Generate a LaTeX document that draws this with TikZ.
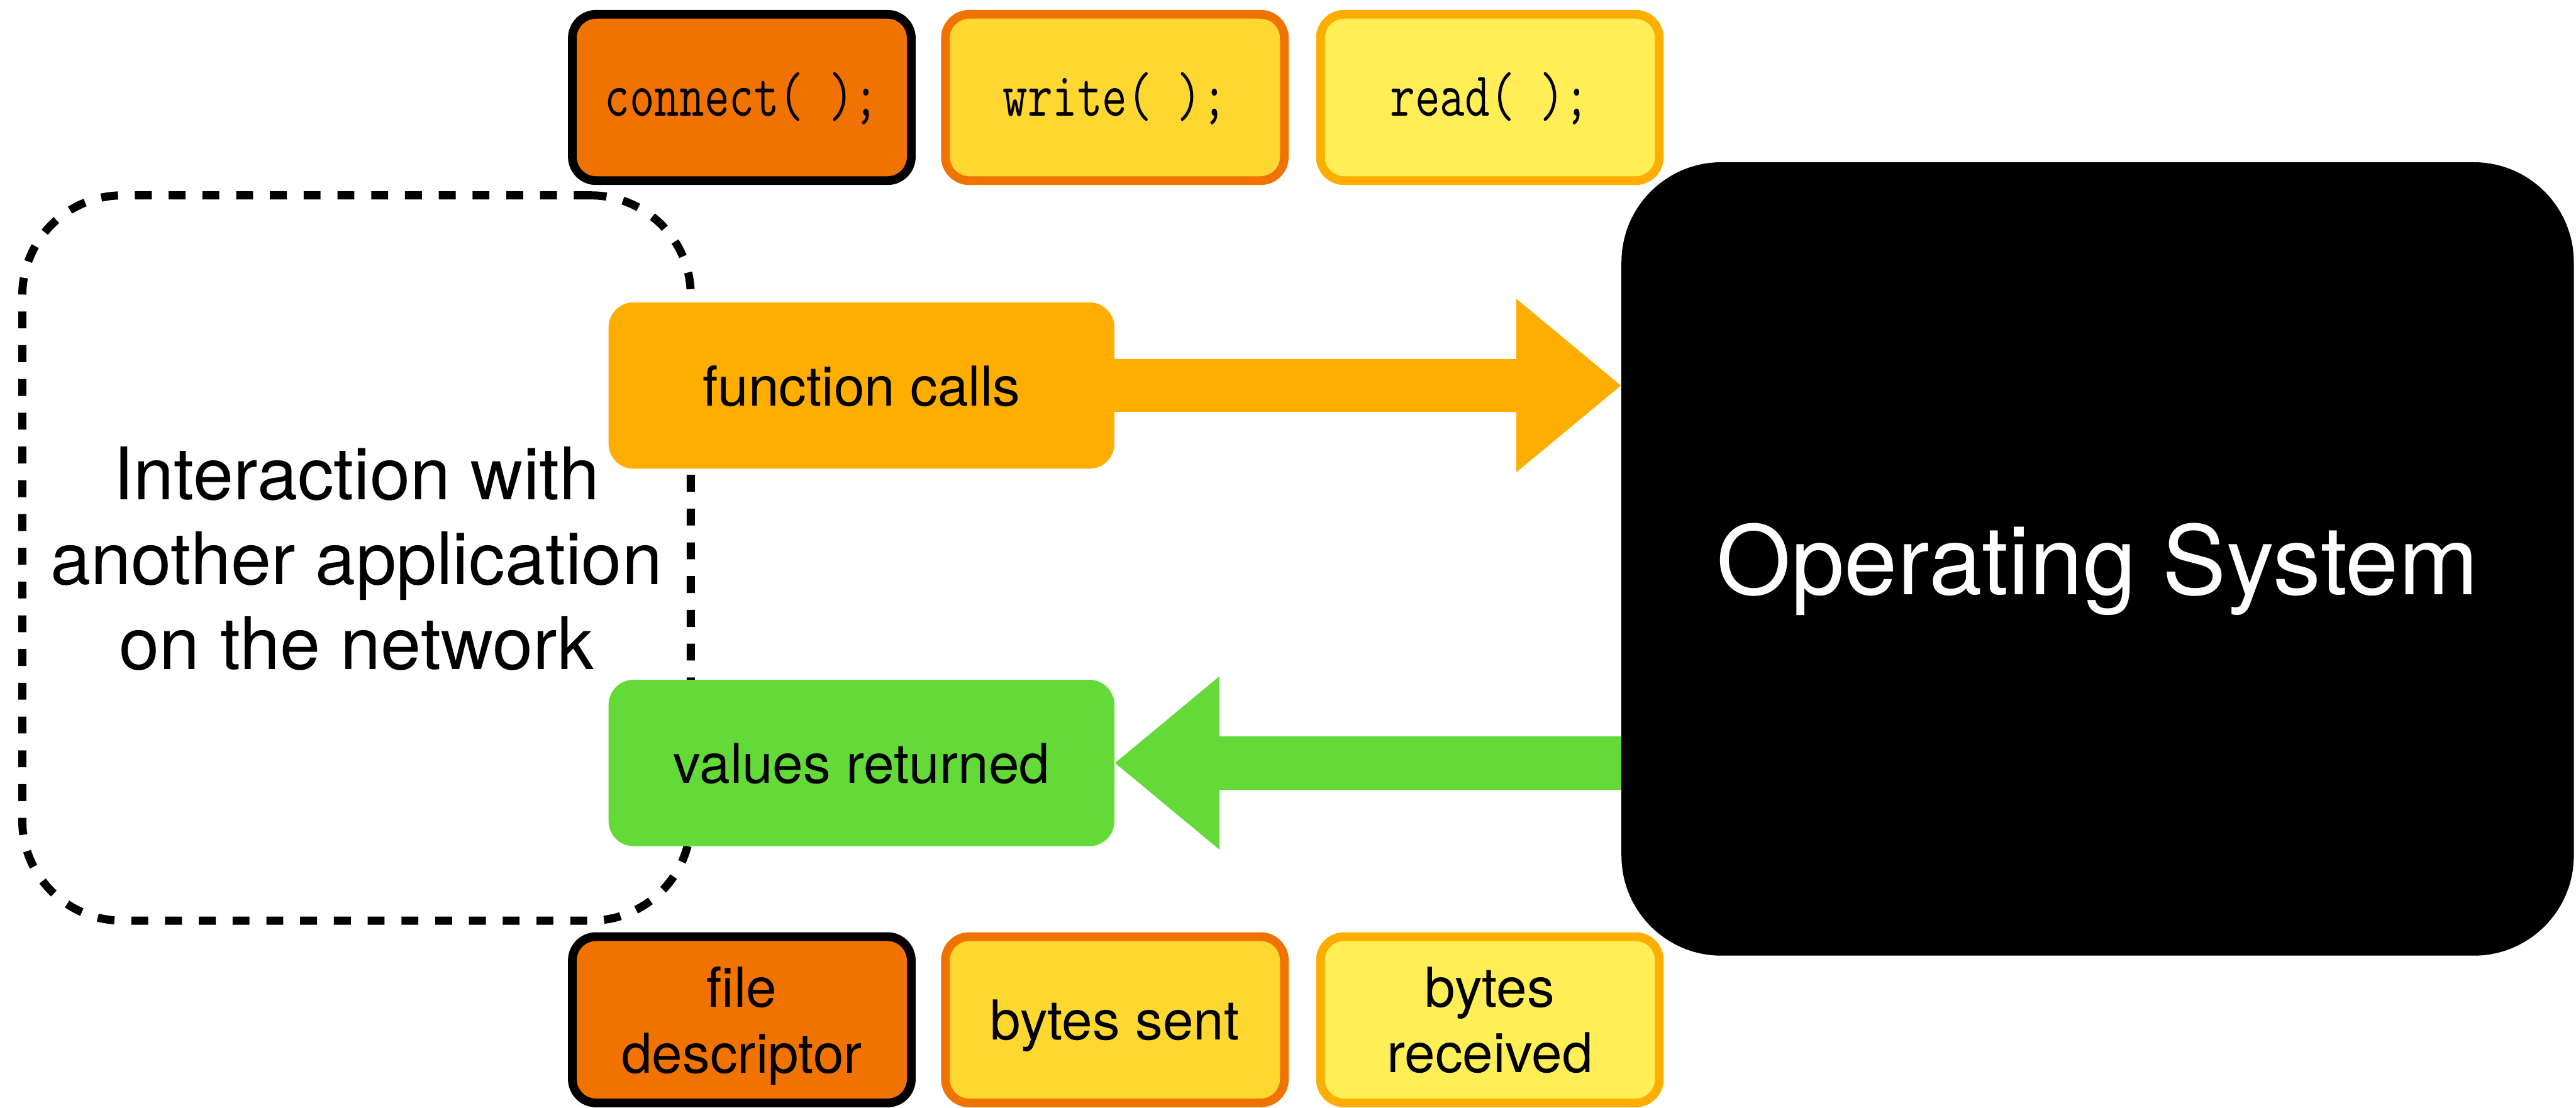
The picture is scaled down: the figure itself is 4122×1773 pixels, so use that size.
\documentclass[tikz,border=0pt]{standalone}
\usepackage{graphicx}
\usepackage{fontspec}
\setmainfont{TeX Gyre Heros}
\usetikzlibrary{arrows.meta}
\definecolor{cOrange}{HTML}{F07300}
\definecolor{cGold}{HTML}{FFD731}
\definecolor{cLemon}{HTML}{FFEE55}
\definecolor{cAmber}{HTML}{FFAE00}
\definecolor{cGreen}{HTML}{63DA38}
\newcommand\codetxt[1]{\scalebox{1}[1.3]{#1}}
\tikzset{
  callbox/.style={rounded corners=0.38cm, line width=0.14cm, minimum width=5.42cm,
    minimum height=2.66cm, inner sep=0pt, outer sep=0pt},
  codetext/.style={font=\fontsize{22}{26}\ttfamily, text depth=3.2pt},
  labeltext/.style={font=\fontsize{25}{30}\selectfont, text depth=0pt, align=center},
  flowbox/.style={rounded corners=0.4cm, minimum width=8.09cm, minimum height=2.66cm,
    inner sep=0pt, outer sep=0pt, font=\fontsize{25}{30}\selectfont, text depth=0pt},
  fatarrow/.style={line width=0.85cm, -{Triangle[length=1.68cm, width=2.66cm]}}
}
\begin{document}
\begin{tikzpicture}[x=0.01cm,y=-0.01cm]
\useasboundingbox (0,0) rectangle (4122,1773);

% application (dashed)
\node[draw, line width=0.13cm, dash pattern=on 0.27cm off 0.27cm, rounded corners=1.6cm,
  minimum width=10.69cm, minimum height=11.6cm, inner sep=0pt, outer sep=0pt,
  font=\fontsize{33}{38.7}\selectfont, align=center, text depth=0pt]
  (app) at (570.5,893) {Interaction with\\another application\\on the network};

% top row
\node[callbox, draw=black, fill=cOrange, codetext] (connect) at (1187,156) {\codetxt{connect( );}};
\node[callbox, draw=cOrange, fill=cGold, codetext] (write) at (1784,156) {\codetxt{write( );}};
\node[callbox, draw=cAmber, fill=cLemon, codetext] (read) at (2384,156) {\codetxt{read( );}};

% bottom row
\node[callbox, draw=black, fill=cOrange, labeltext] (fd) at (1187,1632) {file\\descriptor};
\node[callbox, draw=cOrange, fill=cGold, labeltext] (bs) at (1784,1632) {bytes sent};
\node[callbox, draw=cAmber, fill=cLemon, labeltext] (br) at (2384,1632) {bytes\\received};

% flow boxes
\node[flowbox, fill=cAmber] (fc) at (1378.5,617) {function calls};
\node[flowbox, fill=cGreen] (vr) at (1378.5,1221) {values returned};

% operating system
\node[fill=black, rounded corners=1.6cm, minimum width=15.23cm, minimum height=12.69cm,
  inner sep=0pt, outer sep=0pt, text=white, font=\fontsize{43.5}{52}\selectfont, text depth=0pt]
  (os) at (3356.5,894.5) {Operating System};

% arrows
\draw[cAmber, fatarrow] (fc.east) -- (fc.east -| os.west);
\draw[cGreen, fatarrow] (os.west |- vr.east) -- (vr.east);
\end{tikzpicture}
\end{document}
